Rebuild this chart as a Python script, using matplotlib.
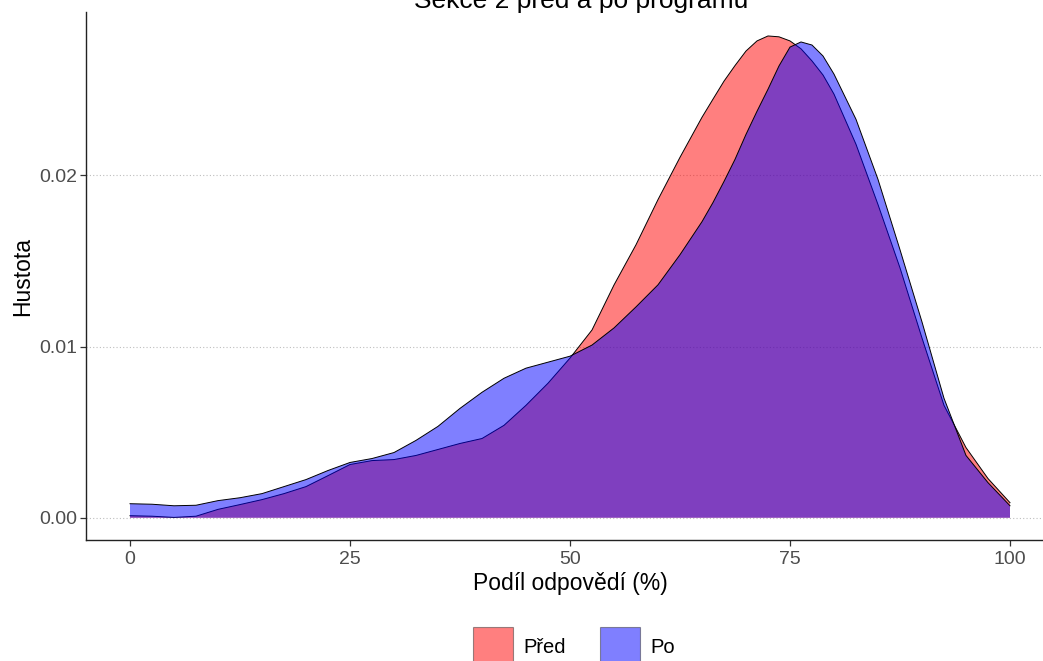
import matplotlib
matplotlib.use("Agg")
import matplotlib.pyplot as plt
from matplotlib.patches import Patch

plt.rcParams['font.family'] = ['Liberation Sans', 'DejaVu Sans']

# density estimates (finer steps around the peaks), before / after the programme
share = [0, 2.5, 5, 7.5, 10, 12.5, 15, 17.5, 20, 22.5, 25, 27.5, 30, 32.5, 35, 37.5,
         40, 42.5, 45, 47.5, 50, 52.5, 55, 57.5, 60, 62.5, 65,
         66.25, 67.5, 68.75, 70, 71.25, 72.5, 73.75, 75, 76.25, 77.5, 78.75, 80,
         82.5, 85, 87.5, 90, 92.5, 95, 97.5, 100]
dens_pred = [0.00012, 0.00009, 0.00002, 0.00009, 0.00049, 0.00077, 0.00106, 0.00141,
             0.00182, 0.00246, 0.00311, 0.00334, 0.00340, 0.00364, 0.00399, 0.00434,
             0.00463, 0.00540, 0.00657, 0.00786, 0.00933, 0.01097, 0.01360, 0.01595,
             0.01859, 0.02106, 0.02340,
             0.02446, 0.02551, 0.02642, 0.02727, 0.02786, 0.02815, 0.02810, 0.02786,
             0.02740, 0.02669, 0.02587, 0.02475,
             0.02182, 0.01830, 0.01460, 0.01050, 0.00657, 0.00410, 0.00229, 0.00088]
dens_po = [0.00082, 0.00079, 0.00070, 0.00073, 0.00100, 0.00117, 0.00141, 0.00182,
           0.00223, 0.00276, 0.00323, 0.00346, 0.00381, 0.00452, 0.00534, 0.00639,
           0.00733, 0.00815, 0.00874, 0.00909, 0.00944, 0.01009, 0.01109, 0.01232,
           0.01361, 0.01537, 0.01730,
           0.01842, 0.01965, 0.02094, 0.02240, 0.02375, 0.02504, 0.02640, 0.02750,
           0.02780, 0.02762, 0.02698, 0.02592,
           0.02328, 0.01977, 0.01566, 0.01144, 0.00698, 0.00364, 0.00205, 0.00070]
series = ["Před", "Po"]
fills = ["#FF0000", "#0000FF"]

xticks = [0, 25, 50, 75, 100]
yticks = [0.00, 0.01, 0.02]

fig = plt.figure(figsize=(10.43, 6.61), dpi=100)
ax = fig.add_axes([86 / 1043, 121 / 661, 968 / 1043, 528 / 661])

for dens, col in zip([dens_pred, dens_po], fills):
    ax.fill_between(share, 0, dens, facecolor=col, alpha=0.5, linewidth=0, zorder=2)
    ax.plot(share, dens, color="black", linewidth=0.7, zorder=2)

ax.set_xlim(-5, 105)
ax.set_ylim(-0.0013, 0.02955)
ax.set_xticks(xticks)
ax.set_yticks(yticks)
ax.set_yticklabels([f"{v:.2f}" for v in yticks])

ax.grid(axis="y", linestyle=(0, (1, 2)), color="#BEBEBE", linewidth=0.8, zorder=0)
ax.grid(axis="x", visible=False)
for side in ["top", "right"]:
    ax.spines[side].set_visible(False)
for side in ["left", "bottom"]:
    ax.spines[side].set_color("#222222")
    ax.spines[side].set_linewidth(1.0)

ax.tick_params(axis="both", colors="#333333", labelcolor="#4D4D4D",
               labelsize=14, length=4, width=0.9)
ax.tick_params(axis="x", pad=4)
ax.tick_params(axis="y", pad=2)

ax.set_xlabel("Podíl odpovědí (%)", fontsize=16.5, labelpad=3)
ax.set_ylabel("Hustota", fontsize=16.5, labelpad=4)

# the title sits mostly above the top edge of the canvas
fig.text(581 / 1043, 1 - 8 / 661, "Sekce 2 před a po programu",
         ha="center", va="baseline", fontsize=19, color="black")

handles = [Patch(facecolor=c, alpha=0.5, edgecolor="#333333", linewidth=0.8) for c in fills]
fig.legend(handles, series, loc="center", bbox_to_anchor=(574 / 1043, 14 / 661),
           ncol=2, frameon=False, fontsize=14.5, handlelength=2.0, handleheight=2.75,
           handletextpad=0.5, columnspacing=1.7)

fig.savefig("out.png", dpi=100)
